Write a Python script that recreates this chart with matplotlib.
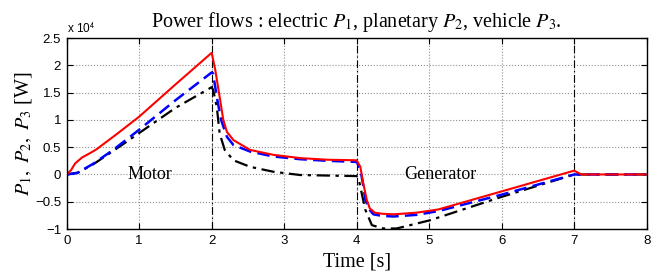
import numpy as np
import matplotlib
matplotlib.use('Agg')
import matplotlib.pyplot as plt
from matplotlib.ticker import FuncFormatter

plt.rcParams['mathtext.fontset'] = 'stix'

# Power values in units of 1e4 W
t_p1 = [0, 0.06, 0.115, 0.21, 0.32, 0.41, 0.7, 1.0, 1.5, 2.0, 2.05, 2.11, 2.16, 2.21, 2.30,
        2.53, 2.85, 3.22, 3.6, 4.0, 4.05, 4.09, 4.14, 4.18, 4.25, 4.35, 4.51, 4.83, 5.13,
        6.0, 7.0, 7.1, 8.0]
p1 = [0, 0.08, 0.2, 0.31, 0.39, 0.46, 0.75, 1.06, 1.65, 2.23, 1.91, 1.42, 1.0, 0.78, 0.63,
      0.45, 0.36, 0.30, 0.27, 0.26, 0.14, -0.16, -0.47, -0.62, -0.70, -0.72, -0.73, -0.70, -0.64,
      -0.31, 0.07, 0.0, 0.0]

t_p2 = [0, 0.15, 0.37, 0.64, 0.99, 1.5, 2.0, 2.02, 2.07, 2.13, 2.21, 2.30, 2.53, 2.85, 3.22,
        3.6, 4.0, 4.05, 4.09, 4.12, 4.18, 4.23, 4.35, 4.51, 4.83, 5.13, 6.0, 7.0, 8.0]
p2 = [0, 0.03, 0.2, 0.45, 0.81, 1.36, 1.87, 1.85, 1.42, 1.0, 0.69, 0.54, 0.42, 0.33, 0.28,
      0.25, 0.23, 0.1, -0.2, -0.47, -0.65, -0.73, -0.76, -0.77, -0.74, -0.67, -0.37, 0.0, 0.0]

t_p3 = [0, 0.15, 0.37, 0.64, 1.0, 1.5, 2.0, 2.02, 2.07, 2.11, 2.18, 2.30, 2.53, 2.85, 3.22,
        3.6, 4.0, 4.03, 4.07, 4.12, 4.21, 4.37, 4.55, 5.01, 6.0, 7.0, 8.0]
p3 = [0, 0.03, 0.19, 0.43, 0.76, 1.22, 1.6, 1.55, 1.24, 0.75, 0.45, 0.26, 0.14, 0.05, -0.01,
      -0.02, -0.03, -0.1, -0.35, -0.65, -0.93, -0.99, -0.99, -0.84, -0.41, 0.0, 0.0]

phase_times = [2, 4, 7]
phase_labels = [(1.15, 'Motor'), (5.15, 'Generator')]

fig = plt.figure(figsize=(6.63, 2.72), dpi=100)
ax = fig.add_axes([0.1006, 0.158, 0.8748, 0.702])

for tp in phase_times:
    ax.axvline(tp, color='k', lw=0.8, dashes=(7, 2.5, 1.2, 2.5))

ax.plot(t_p3, p3, color='k', lw=1.6, dashes=(6, 2.5, 1.5, 2.5))
ax.plot(t_p2, p2, color='b', lw=1.8, dashes=(5, 2.5))
ax.plot(t_p1, p1, color='r', lw=1.5)

for x, s in phase_labels:
    ax.text(x, 0, s, ha='center', va='center', fontsize=13, family='Liberation Serif')

ax.set_xlim(0, 8)
ax.set_ylim(-1, 2.5)
ax.set_xticks(range(0, 9))
ax.set_yticks(np.arange(-1, 2.51, 0.5))
ax.yaxis.set_major_formatter(FuncFormatter(lambda v, p: ('%g' % v).replace('-', '\u2212')))
ax.grid(True, color='0.55', linestyle=':', linewidth=0.8)
ax.tick_params(direction='in', top=True, right=True, length=4, labelsize=9.5, pad=4)
for lab in ax.get_xticklabels() + ax.get_yticklabels():
    lab.set_family('Liberation Sans')
for sp in ax.spines.values():
    sp.set_linewidth(1.0)

ax.text(0.0, 1.012, r'x 10$^{\mathsf{4}}$', transform=ax.transAxes, ha='left', va='bottom',
        fontsize=8.5, family='Liberation Sans')

ax.set_title(r'Power flows : electric $P_1$, planetary $P_2$, vehicle $P_3$.',
             fontsize=14.5, family='Liberation Serif', pad=8)
ax.set_xlabel('Time [s]', fontsize=14.5, family='Liberation Serif', labelpad=4)
ax.set_ylabel(r'$P_1,\ P_2,\ P_3$ [W]', fontsize=14.5, family='Liberation Serif', labelpad=1)

fig.savefig('out.png', dpi=100)
